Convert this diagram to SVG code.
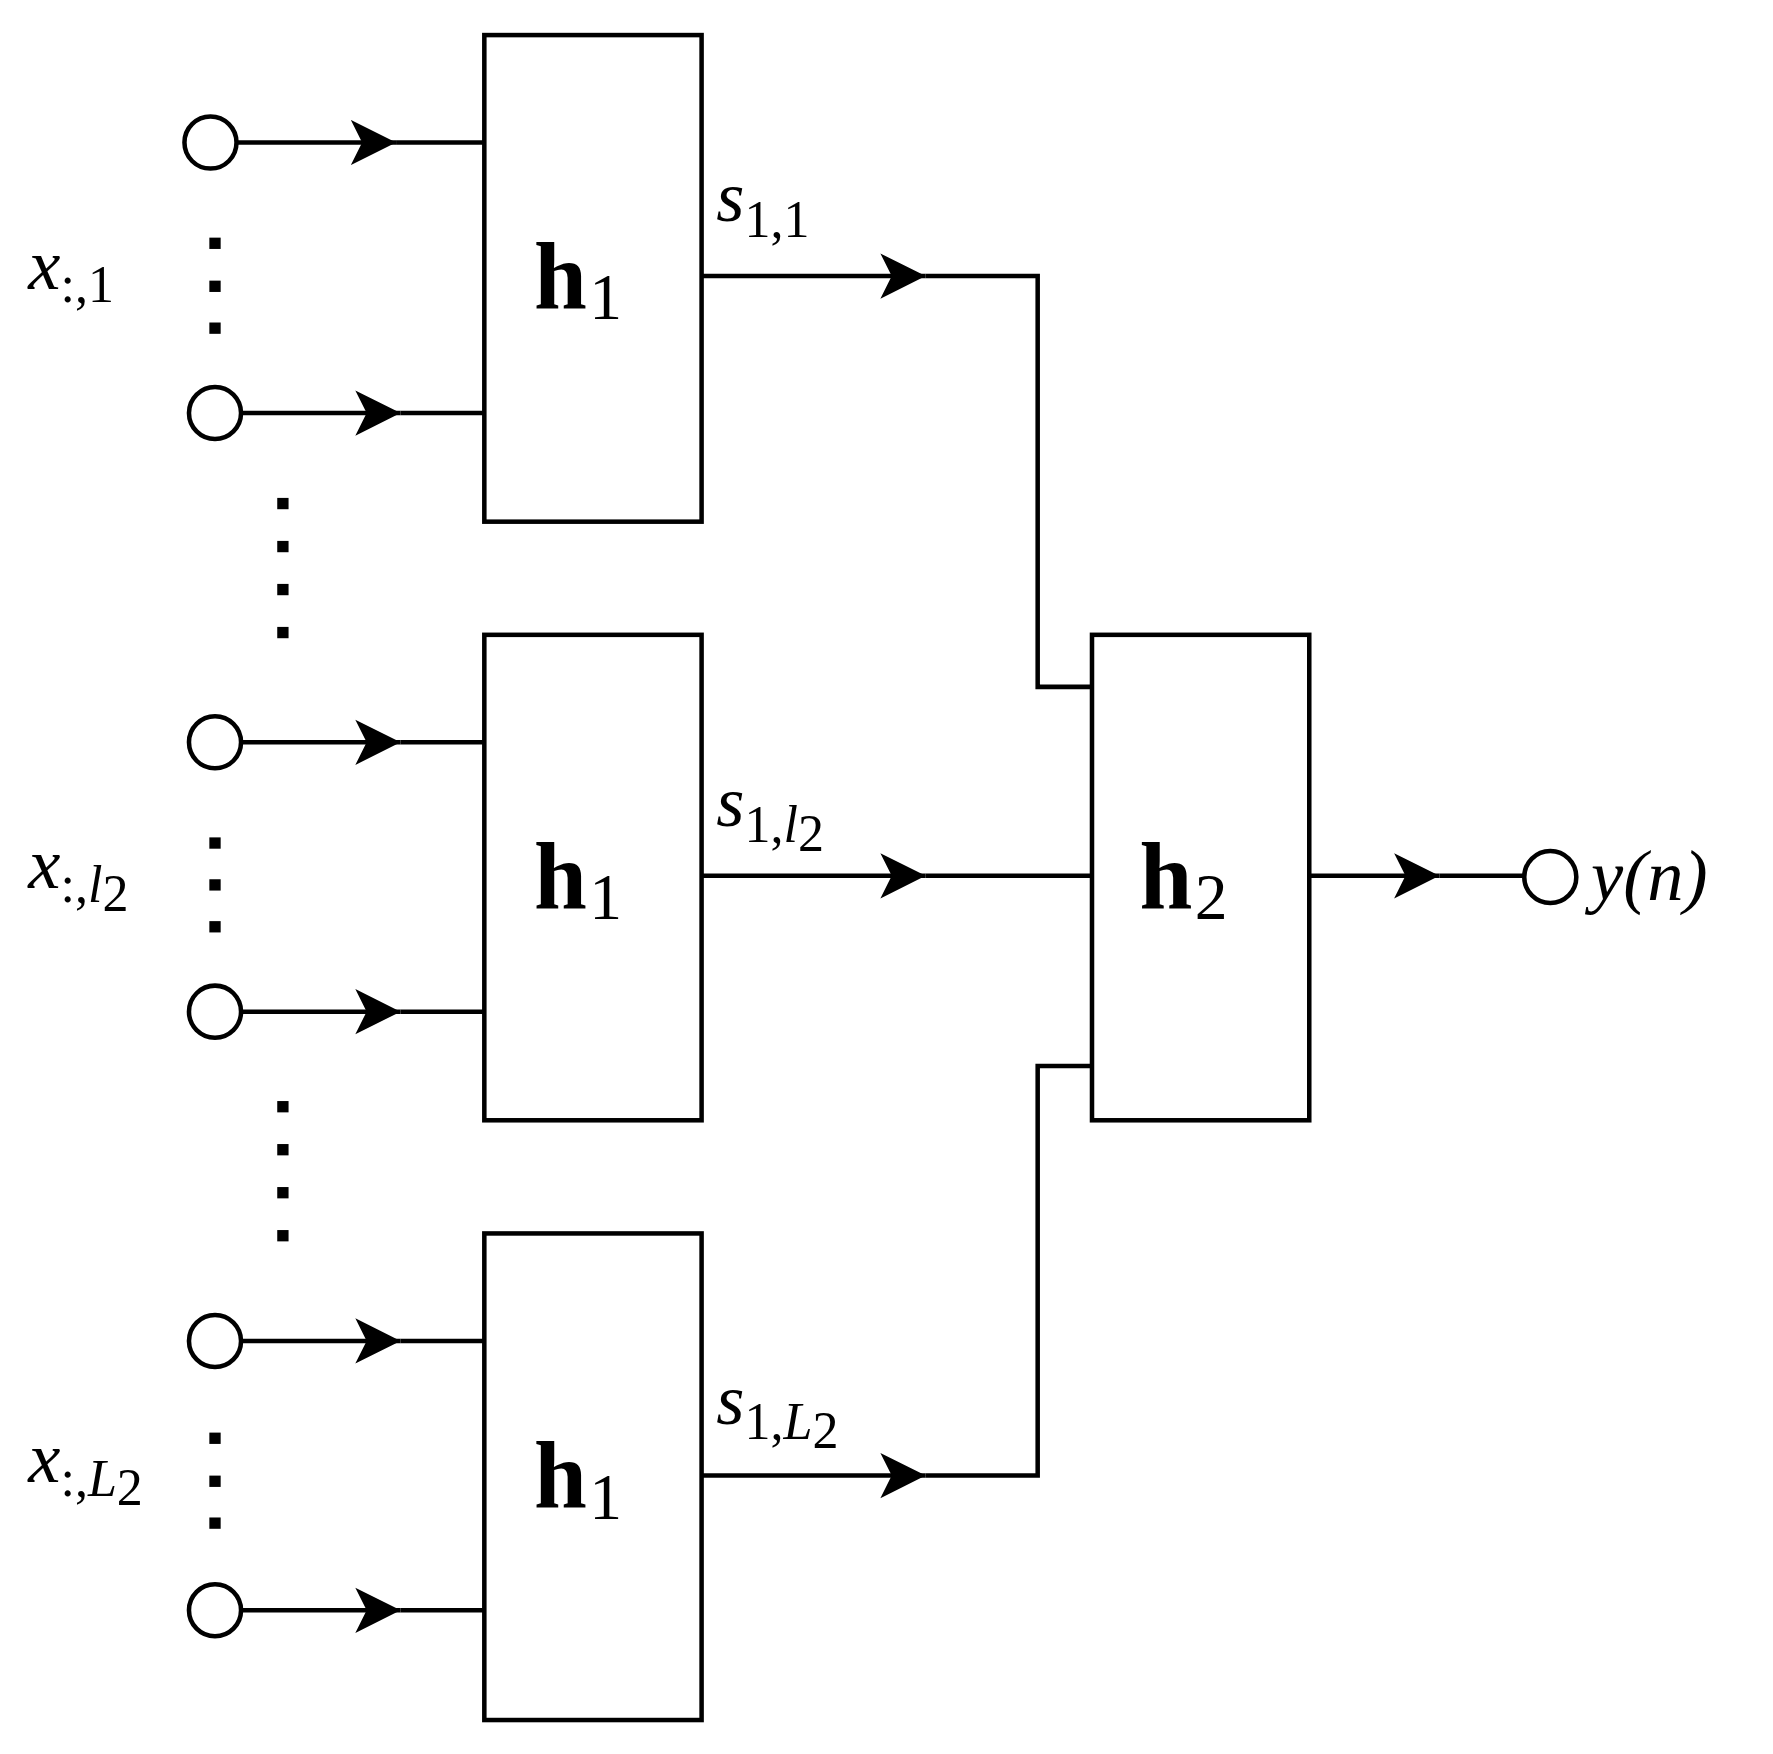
<svg xmlns="http://www.w3.org/2000/svg" width="1773" height="1754" viewBox="0 0 1773 1754">
<defs>
<style>
.b{fill:#fff;stroke:#000;stroke-width:4}
.l{fill:none;stroke:#000;stroke-width:4}
.c{fill:#fff;stroke:#000;stroke-width:4}
.d{fill:#000}
.m{font-family:"Liberation Serif",serif;font-style:italic;font-size:64px}
.s{font-family:"Liberation Serif",serif;font-size:46px}
.h{font-family:"Liberation Serif",serif;font-weight:bold;font-size:84px}
.hs{font-family:"Liberation Serif",serif;font-size:58px}
</style>
<marker id="a" viewBox="0 0 44 44" refX="40" refY="22" markerWidth="44" markerHeight="44" markerUnits="userSpaceOnUse" orient="auto">
<path d="M0,2 L40,22 L0,42 L10,22 Z" fill="#000"/>
</marker>
</defs>
<rect width="1773" height="1754" fill="#fff"/>
<g transform="scale(1.1316)">
<g id="connectors">
<path class="l" d="M209,126 H350" marker-end="url(#a)"/><path class="l" d="M350,126 H428"/>
<path class="l" d="M214,365 H354" marker-end="url(#a)"/><path class="l" d="M354,365 H428"/>
<path class="l" d="M214,656 H354" marker-end="url(#a)"/><path class="l" d="M354,656 H428"/>
<path class="l" d="M214,894 H354" marker-end="url(#a)"/><path class="l" d="M354,894 H428"/>
<path class="l" d="M214,1185 H354" marker-end="url(#a)"/><path class="l" d="M354,1185 H428"/>
<path class="l" d="M214,1423 H354" marker-end="url(#a)"/><path class="l" d="M354,1423 H428"/>
<path class="l" d="M620,244 H818" marker-end="url(#a)"/><path class="l" d="M818,244 H917 V607 H965"/>
<path class="l" d="M620,774 H818" marker-end="url(#a)"/><path class="l" d="M818,774 H965"/>
<path class="l" d="M620,1304 H818" marker-end="url(#a)"/><path class="l" d="M818,1304 H917 V942 H965"/>
<path class="l" d="M1157,774 H1272" marker-end="url(#a)"/><path class="l" d="M1272,774 H1347"/>
</g>
<g id="inputs">
<circle class="c" cx="186" cy="126" r="23"/><circle class="c" cx="190" cy="365" r="23"/>
<circle class="c" cx="190" cy="656" r="23"/><circle class="c" cx="190" cy="894" r="23"/>
<circle class="c" cx="190" cy="1185" r="23"/><circle class="c" cx="190" cy="1423" r="23"/>
</g>
<g id="dots">
<rect class="d" x="185" y="210" width="10" height="10"/><rect class="d" x="185" y="248" width="10" height="10"/><rect class="d" x="185" y="285" width="10" height="10"/>
<rect class="d" x="245" y="440" width="10" height="10"/><rect class="d" x="245" y="478" width="10" height="10"/><rect class="d" x="245" y="516" width="10" height="10"/><rect class="d" x="245" y="554" width="10" height="10"/>
<rect class="d" x="185" y="740" width="10" height="10"/><rect class="d" x="185" y="777" width="10" height="10"/><rect class="d" x="185" y="814" width="10" height="10"/>
<rect class="d" x="245" y="973" width="10" height="10"/><rect class="d" x="245" y="1011" width="10" height="10"/><rect class="d" x="245" y="1049" width="10" height="10"/><rect class="d" x="245" y="1087" width="10" height="10"/>
<rect class="d" x="185" y="1266" width="10" height="10"/><rect class="d" x="185" y="1304" width="10" height="10"/><rect class="d" x="185" y="1341" width="10" height="10"/>
</g>
<g id="h1a"><rect class="b" x="428" y="31" width="192" height="430"/><text x="472" y="272"><tspan class="h">h</tspan><tspan class="hs" dx="2" dy="10">1</tspan></text></g>
<g id="h1b"><rect class="b" x="428" y="561" width="192" height="429"/><text x="472" y="802"><tspan class="h">h</tspan><tspan class="hs" dx="2" dy="10">1</tspan></text></g>
<g id="h1c"><rect class="b" x="428" y="1090" width="192" height="430"/><text x="472" y="1332"><tspan class="h">h</tspan><tspan class="hs" dx="2" dy="10">1</tspan></text></g>
<g id="h2"><rect class="b" x="965" y="561" width="192" height="429"/><text x="1007" y="802"><tspan class="h">h</tspan><tspan class="hs" dx="2" dy="10">2</tspan></text></g>
<g id="output"><circle class="c" cx="1370" cy="775" r="23"/><text class="m" x="1406" y="795" font-size="70">y(n)</text></g>
<g id="labels">
<text x="25" y="255"><tspan class="m">x</tspan><tspan class="s" dy="12">:,1</tspan></text>
<text x="25" y="785"><tspan class="m">x</tspan><tspan class="s" dy="12">:,</tspan><tspan class="s" font-style="italic">l</tspan><tspan class="s" font-size="32" dy="8">2</tspan></text>
<text x="25" y="1310"><tspan class="m">x</tspan><tspan class="s" dy="12">:,</tspan><tspan class="s" font-style="italic">L</tspan><tspan class="s" font-size="32" dy="8">2</tspan></text>
<text x="633" y="195"><tspan class="m">s</tspan><tspan class="s" dy="14">1,1</tspan></text>
<text x="633" y="730"><tspan class="m">s</tspan><tspan class="s" dy="14">1,</tspan><tspan class="s" font-style="italic">l</tspan><tspan class="s" font-size="32" dy="8">2</tspan></text>
<text x="633" y="1258"><tspan class="m">s</tspan><tspan class="s" dy="14">1,</tspan><tspan class="s" font-style="italic">L</tspan><tspan class="s" font-size="32" dy="8">2</tspan></text>
</g>
</g>
</svg>
